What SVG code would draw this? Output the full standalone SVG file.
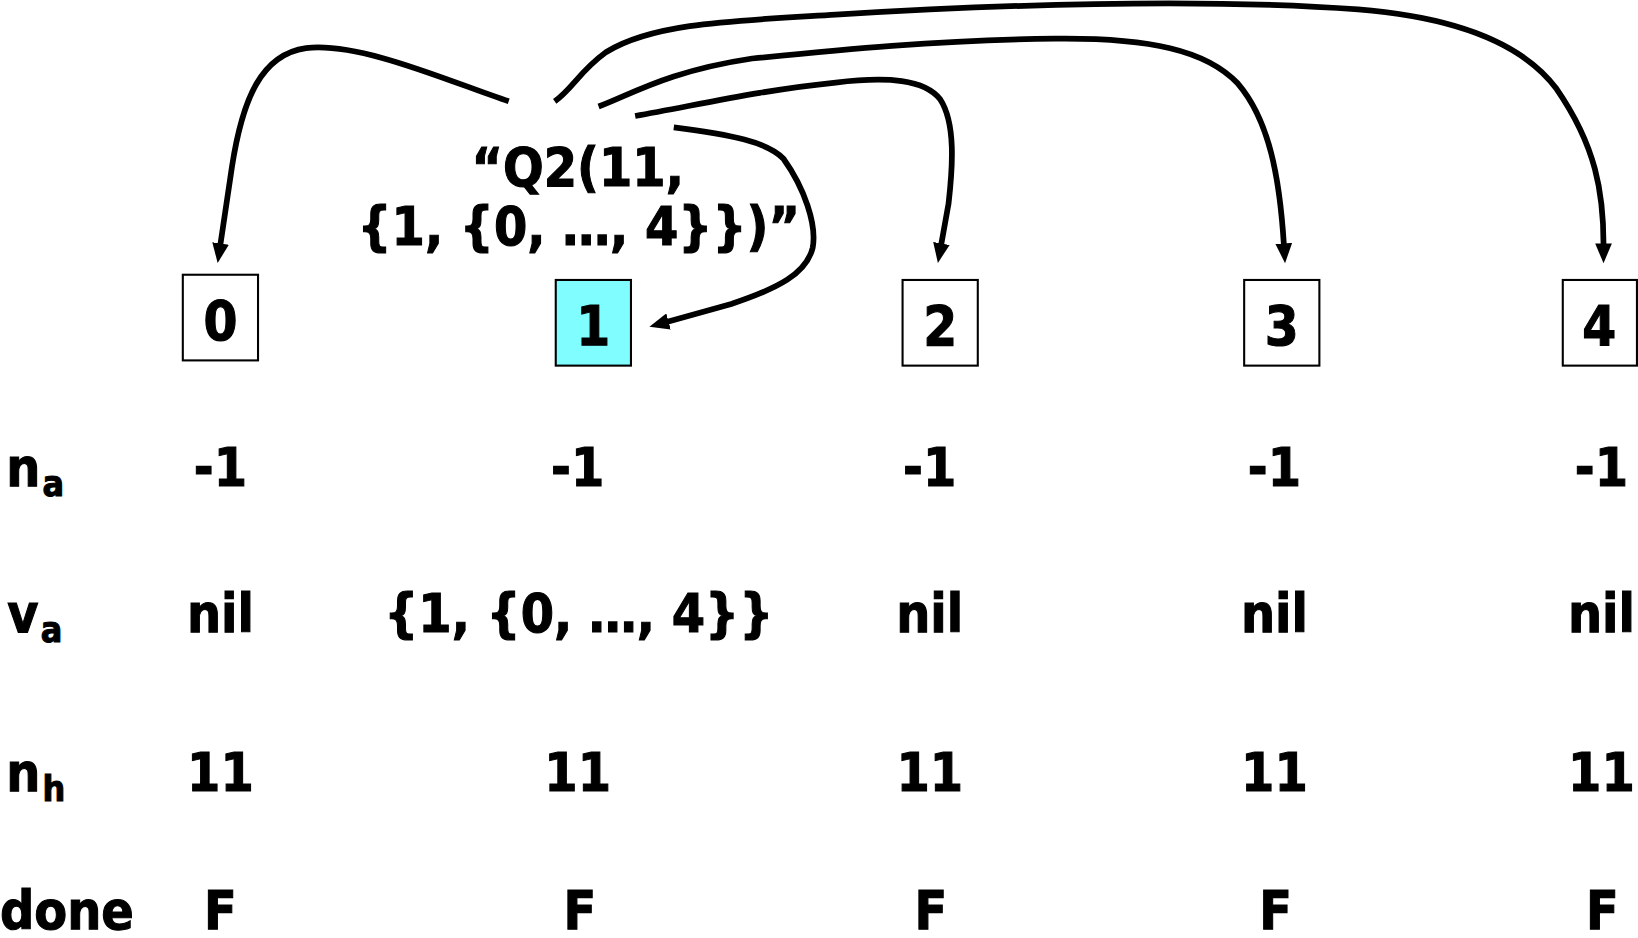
<svg xmlns="http://www.w3.org/2000/svg" width="1638" height="938" viewBox="0 0 1638 938">
<defs>
<style>
.t{font-family:"DejaVu Sans Condensed","DejaVu Sans",Verdana,sans-serif;font-weight:bold;fill:#000;stroke:#000;stroke-width:1px;}
.v{font-size:51px;text-anchor:middle;}
.box{stroke:#000;stroke-width:2px;fill:#fff;}
.lbl{font-size:51px;}
.sub{font-size:34px;}
</style>
<marker id="ah" markerUnits="userSpaceOnUse" markerWidth="20" markerHeight="16" refX="1" refY="8" orient="auto" viewBox="0 0 20 16">
<path d="M0,0 L19,8 L0,16 z" fill="#000"/>
</marker>
</defs>
<rect width="1638" height="938" fill="#fff"/>
<g transform="scale(1.04464)">
<g id="connectors" fill="none" stroke="#000" stroke-width="5.5" marker-end="url(#ah)">
<path d="M487,97 C430,78 345,40 293,46 C250,52 232,95 222,160 L211,234"/>
<path d="M531,97 C548,85 555,68 580,50 C625,22 700,20 800,14 C950,5 1150,-2 1300,9 C1400,17 1460,45 1490,85 C1528,140 1535,185 1535,234"/>
<path d="M573,102 C605,90 640,68 720,56 C800,48 900,38 1010,37 C1100,36 1155,48 1185,80 C1215,115 1225,170 1229,234"/>
<path d="M608,111 C670,100 730,86 800,79 C850,73 885,76 900,95 C915,118 912,160 908,195 L901,234"/>
<path d="M645,122 C700,129 735,136 750,152 C770,180 782,215 778,237 C772,262 745,276 700,291 L639,308"/>
</g>
<g id="quote">
<text class="t v" x="553" y="178">“Q2(11,</text>
<text class="t v" x="554" y="235">{1, {0, …, 4}})”</text>
</g>
<g id="node0"><rect class="box" x="175" y="263" width="72" height="82"/><text class="t v" x="211" y="325" style="font-size:52px">0</text></g>
<g id="node1"><rect class="box" x="532" y="268" width="72" height="82" style="fill:#7ffdff"/><text class="t v" x="568" y="330" style="font-size:52px">1</text></g>
<g id="node2"><rect class="box" x="864" y="268" width="72" height="82"/><text class="t v" x="900" y="330" style="font-size:52px">2</text></g>
<g id="node3"><rect class="box" x="1191" y="268" width="72" height="82"/><text class="t v" x="1227" y="330" style="font-size:52px">3</text></g>
<g id="node4"><rect class="box" x="1496" y="268" width="71" height="82"/><text class="t v" x="1531" y="330" style="font-size:52px">4</text></g>
<g id="labels">
<text class="t lbl" x="6" y="465">n<tspan class="sub" dx="2" dy="10">a</tspan></text>
<text class="t lbl" x="7" y="605">v<tspan class="sub" dx="2" dy="10">a</tspan></text>
<text class="t lbl" x="6" y="757">n<tspan class="sub" dx="2" dy="10">h</tspan></text>
<text class="t lbl" x="0" y="889">done</text>
</g>
<g id="values">
<text class="t v" x="211" y="465">-1</text>
<text class="t v" x="553" y="465">-1</text>
<text class="t v" x="890" y="465">-1</text>
<text class="t v" x="1220" y="465">-1</text>
<text class="t v" x="1533" y="465">-1</text>
<text class="t v" x="211" y="605">nil</text>
<text class="t v" x="554" y="605">{1, {0, …, 4}}</text>
<text class="t v" x="890" y="605">nil</text>
<text class="t v" x="1220" y="605">nil</text>
<text class="t v" x="1533" y="605">nil</text>
<text class="t v" x="211" y="757">11</text>
<text class="t v" x="553" y="757">11</text>
<text class="t v" x="890" y="757">11</text>
<text class="t v" x="1220" y="757">11</text>
<text class="t v" x="1533" y="757">11</text>
<text class="t v" x="211" y="889">F</text>
<text class="t v" x="555" y="889">F</text>
<text class="t v" x="891" y="889">F</text>
<text class="t v" x="1221" y="889">F</text>
<text class="t v" x="1534" y="889">F</text>
</g>
</g>
</svg>
